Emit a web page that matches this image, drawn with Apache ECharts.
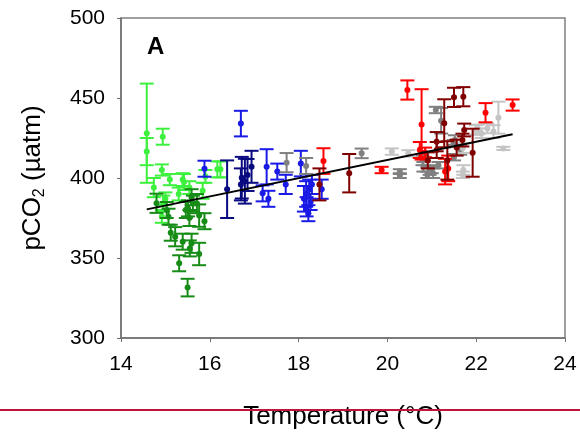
<!DOCTYPE html>
<html>
<head>
<meta charset="utf-8">
<script src="https://cdn.jsdelivr.net/npm/echarts@6/dist/echarts.min.js"></script>
<style>html,body{margin:0;padding:0;background:#fff;}#c{width:580px;height:441px;}</style>
</head>
<body>
<div id="c"></div>
<script>
// [temperature °C, pCO2 µatm, error ±µatm]
const lightGreen = [
  [14.58, 428, 31], [14.58, 416.5, 8.5], [14.94, 425.8, 5], [14.92, 405, 3.5],
  [14.74, 394, 6], [15.10, 399, 3.5], [15.39, 399, 4], [15.42, 397.5, 5],
  [15.54, 394, 4], [15.84, 392, 5], [16.17, 405.4, 5], [16.24, 405.4, 5],
  [14.95, 384, 5], [14.92, 376, 4], [15.00, 387, 4], [15.90, 401, 4], [15.30, 390, 4]
];
const darkGreen = [
  [14.80, 384.2, 6], [15.59, 388, 5], [15.07, 375.8, 5], [15.12, 365.8, 5],
  [15.22, 363.3, 6], [15.39, 360.2, 5], [15.59, 359.2, 6], [15.55, 356, 5],
  [15.76, 352.5, 7], [15.31, 346.7, 5], [15.50, 331.5, 5.5], [15.46, 380, 5],
  [15.88, 373, 5], [15.76, 376.5, 7], [15.71, 384, 6], [15.54, 375, 5],
  [15.51, 381, 5], [15.62, 384, 5], [15.03, 380, 5]
];
const blue = [
  [15.88, 405.8, 5], [16.70, 434, 8], [17.28, 407, 11], [17.52, 404, 5],
  [18.05, 409, 8], [17.71, 396, 6], [17.19, 390.4, 5], [17.32, 387, 5],
  [18.17, 390, 8], [18.12, 387, 8], [18.24, 393, 6], [18.22, 378, 5],
  [18.52, 393, 6], [18.30, 396, 6], [18.18, 382, 6], [18.27, 385, 5]
];
const navy = [
  [16.39, 393, 18], [16.72, 400.2, 13], [16.79, 398, 14], [16.85, 401.9, 10],
  [16.94, 407, 10], [16.70, 396, 10]
];
const gray = [
  [17.73, 409.6, 6], [18.17, 407.5, 5], [19.42, 415.4, 3], [20.28, 404, 1.5],
  [20.28, 401.5, 1.5], [21.09, 442.5, 2], [21.21, 435.8, 8], [20.79, 411, 3],
  [20.95, 405, 3], [21.03, 403, 3], [20.81, 407, 3], [21.52, 423.7, 3],
  [21.64, 417.5, 3], [21.49, 421.7, 2], [21.50, 413, 2], [21.00, 405, 2],
  [21.15, 408, 2], [20.90, 402, 2]
];
const lightGray = [
  [20.10, 416.5, 2], [20.47, 415.4, 2], [22.50, 437.7, 10], [22.39, 429, 4],
  [22.05, 430.4, 3], [22.12, 428, 3], [21.99, 430, 3], [22.61, 418.5, 1],
  [21.70, 418.7, 3], [21.71, 405, 3], [21.70, 402, 2], [22.25, 431, 3]
];
const red = [
  [18.56, 410.6, 8], [19.87, 405, 2], [20.45, 455, 6], [20.77, 433.5, 22],
  [20.73, 417.5, 5], [22.21, 440.8, 6], [22.82, 445.6, 3.5], [21.37, 406, 8],
  [20.85, 416, 3], [21.30, 404, 8]
];
const darkRed = [
  [18.47, 396, 10], [19.14, 403, 12], [21.50, 450.4, 6], [21.71, 450.8, 6],
  [21.28, 434.2, 15], [21.73, 430, 4], [21.11, 422.7, 6], [21.92, 415.8, 15],
  [20.91, 411, 5], [21.35, 411, 12], [21.56, 419, 5], [21.11, 417.5, 5], [21.69, 423.7, 4]
];
// regression line end points
const regLine = [[14.58, 380.4], [22.82, 427.3]];
const xTicks = [14, 16, 18, 20, 22, 24];
const yTicks = [300, 350, 400, 450, 500];

const groups = [
  {data: lightGreen, color: '#3ef03e'},
  {data: darkGreen, color: '#168c16'},
  {data: blue, color: '#1a1ae6'},
  {data: navy, color: '#0a0a80'},
  {data: gray, color: '#808080'},
  {data: lightGray, color: '#c4c4c4'},
  {data: red, color: '#ff0000'},
  {data: darkRed, color: '#800000'}
];

function makeRender(color) {
  return function (params, api) {
    const x = api.value(0), y = api.value(1), e = api.value(2);
    const c = api.coord([x, y]);
    const t = api.coord([x, y + e]);
    const b = api.coord([x, y - e]);
    const hw = 7;
    const st = {stroke: color, lineWidth: 2};
    return {type: 'group', children: [
      {type: 'line', shape: {x1: c[0], y1: t[1], x2: c[0], y2: b[1]}, style: st},
      {type: 'line', shape: {x1: c[0] - hw, y1: t[1], x2: c[0] + hw, y2: t[1]}, style: st},
      {type: 'line', shape: {x1: c[0] - hw, y1: b[1], x2: c[0] + hw, y2: b[1]}, style: st},
      {type: 'circle', shape: {cx: c[0], cy: c[1], r: 3}, style: {fill: color}}
    ]};
  };
}

const series = groups.map(g => ({
  type: 'custom',
  data: g.data,
  encode: {x: 0, y: 1},
  renderItem: makeRender(g.color),
  clip: false,
  silent: true
}));
series.push({
  type: 'line', data: regLine, symbol: 'none', z: 10,
  lineStyle: {color: '#000', width: 2}, silent: true
});

const font = 'Arial, "Liberation Sans", sans-serif';
const chart = echarts.init(document.getElementById('c'), null, {renderer: 'canvas'});
chart.setOption({
  animation: false,
  backgroundColor: '#fff',
  grid: {left: 121, right: 15, top: 18, bottom: 103, show: true, borderColor: '#808080', borderWidth: 1.5},
  xAxis: {
    type: 'value', min: xTicks[0], max: xTicks[xTicks.length - 1], interval: 2,
    name: 'Temperature (°C)', nameLocation: 'middle', nameGap: 66,
    nameTextStyle: {fontFamily: font, fontSize: 26, color: '#000'},
    axisLine: {lineStyle: {color: '#707070', width: 1.5}},
    axisTick: {inside: false, length: 4, lineStyle: {color: '#707070'}},
    axisLabel: {fontFamily: font, fontSize: 21, color: '#000', margin: 16},
    splitLine: {show: false}
  },
  yAxis: {
    type: 'value', min: yTicks[0], max: yTicks[yTicks.length - 1], interval: 50,
    name: 'pCO{sub|2} (µatm)', nameLocation: 'middle', nameRotate: 90, nameGap: 73,
    nameTextStyle: {
      fontFamily: font, fontSize: 26, color: '#000',
      rich: {
        sub: {fontFamily: font, fontSize: 16, color: '#000', lineHeight: 13, verticalAlign: 'bottom'}
      },
      lineHeight: 30, verticalAlign: 'bottom'
    },
    axisLine: {lineStyle: {color: '#707070', width: 1.5}},
    axisTick: {inside: false, length: 4, lineStyle: {color: '#707070'}},
    axisLabel: {fontFamily: font, fontSize: 21, color: '#000', margin: 16},
    splitLine: {show: false}
  },
  graphic: [
    {type: 'text', left: 147, top: 35, style: {text: 'A', font: 'bold 24px ' + font, fill: '#000'}},
    {type: 'line', shape: {x1: 0, y1: 410, x2: 580, y2: 410}, style: {stroke: '#c0143c', lineWidth: 2}, z: 100}
  ],
  series: series
});
</script>
</body>
</html>
